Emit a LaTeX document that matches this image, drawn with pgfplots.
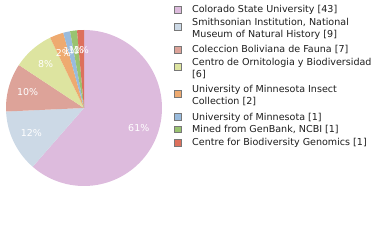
\documentclass[border=0pt]{standalone}
\usepackage{fontspec}
\setmainfont{DejaVu Sans}
\usepackage{pgfplots}
\pgfplotsset{compat=1.18}
\definecolor{cA}{RGB}{221,187,221}
\definecolor{cB}{RGB}{204,217,230}
\definecolor{cC}{RGB}{221,163,153}
\definecolor{cD}{RGB}{221,228,160}
\definecolor{cE}{RGB}{238,170,112}
\definecolor{cF}{RGB}{153,187,221}
\definecolor{cG}{RGB}{153,195,112}
\definecolor{cH}{RGB}{221,112,92}
\definecolor{legtext}{RGB}{30,30,30}
\begin{document}
\begin{tikzpicture}[x=1bp,y=1bp]
\useasboundingbox (0,0) rectangle (380,240);
% counts
\def\tot{70}
\pgfmathsetmacro\aA{90}
\pgfmathsetmacro\aB{\aA-43*360/\tot}
\pgfmathsetmacro\aC{\aB-9*360/\tot}
\pgfmathsetmacro\aD{\aC-7*360/\tot}
\pgfmathsetmacro\aE{\aD-6*360/\tot}
\pgfmathsetmacro\aF{\aE-2*360/\tot}
\pgfmathsetmacro\aG{\aF-1*360/\tot}
\pgfmathsetmacro\aH{\aG-1*360/\tot}
\pgfmathsetmacro\aI{\aH-1*360/\tot}
\begin{axis}[at={(84bp,132bp)}, anchor=center, width=156bp, height=156bp,
  scale only axis, hide axis, clip=false,
  xmin=-1, xmax=1, ymin=-1, ymax=1]
\addplot[fill=cA, draw=none, no markers, domain=\aB:\aA, samples=80] ({cos(x)},{sin(x)}) -- (axis cs:0,0) -- cycle;
\addplot[fill=cB, draw=none, no markers, domain=\aC:\aB, samples=30] ({cos(x)},{sin(x)}) -- (axis cs:0,0) -- cycle;
\addplot[fill=cC, draw=none, no markers, domain=\aD:\aC, samples=30] ({cos(x)},{sin(x)}) -- (axis cs:0,0) -- cycle;
\addplot[fill=cD, draw=none, no markers, domain=\aE:\aD, samples=30] ({cos(x)},{sin(x)}) -- (axis cs:0,0) -- cycle;
\addplot[fill=cE, draw=none, no markers, domain=\aF:\aE, samples=10] ({cos(x)},{sin(x)}) -- (axis cs:0,0) -- cycle;
\addplot[fill=cF, draw=none, no markers, domain=\aG:\aF, samples=6] ({cos(x)},{sin(x)}) -- (axis cs:0,0) -- cycle;
\addplot[fill=cG, draw=none, no markers, domain=\aH:\aG, samples=6] ({cos(x)},{sin(x)}) -- (axis cs:0,0) -- cycle;
\addplot[fill=cH, draw=none, no markers, domain=\aI:\aH, samples=6] ({cos(x)},{sin(x)}) -- (axis cs:0,0) -- cycle;
\tikzset{pl/.style={text=white, font=\fontsize{9.5}{10}\selectfont, inner sep=0pt}}
\node[pl] at (axis cs:{0.75*cos((\aA+\aB)/2)},{0.75*sin((\aA+\aB)/2)}) {61\%};
\node[pl] at (axis cs:{0.75*cos((\aB+\aC)/2)},{0.75*sin((\aB+\aC)/2)}) {12\%};
\node[pl] at (axis cs:{0.75*cos((\aC+\aD)/2)},{0.75*sin((\aC+\aD)/2)}) {10\%};
\node[pl] at (axis cs:{0.75*cos((\aD+\aE)/2)},{0.75*sin((\aD+\aE)/2)}) {8\%};
\node[pl] at (axis cs:{0.75*cos((\aE+\aF)/2)},{0.75*sin((\aE+\aF)/2)}) {2\%};
\node[pl] at (axis cs:{0.75*cos((\aF+\aG)/2)},{0.75*sin((\aF+\aG)/2)}) {1\%};
\node[pl] at (axis cs:{0.75*cos((\aG+\aH)/2)},{0.75*sin((\aG+\aH)/2)}) {1\%};
\node[pl] at (axis cs:{0.75*cos((\aH+\aI)/2)},{0.75*sin((\aH+\aI)/2)}) {1\%};
\end{axis}
% legend
\tikzset{ls/.style={draw={rgb,255:red,120;green,120;blue,120}, line width=0.8bp},
         lt/.style={anchor=base west, inner sep=0pt, text=legtext, font=\fontsize{9.6}{10}\selectfont}}
\def\sq#1#2{\filldraw[ls, fill=#1] (174.5,{240-#2-3.3}) rectangle ++(6.6,6.6);}
\sq{cA}{10}
\sq{cB}{27}
\sq{cC}{50}
\sq{cD}{67}
\sq{cE}{94}
\sq{cF}{117}
\sq{cG}{129.5}
\sq{cH}{143}
\node[lt] at (192,{240-12.8}) {Colorado State University [43]};
\node[lt] at (192,{240-25.8}) {Smithsonian Institution, National};
\node[lt] at (192,{240-37.6}) {Museum of Natural History [9]};
\node[lt] at (192,{240-52.8}) {Coleccion Boliviana de Fauna [7]};
\node[lt] at (192,{240-65.8}) {Centro de Ornitologia y Biodiversidad};
\node[lt] at (192,{240-77.6}) {[6]};
\node[lt] at (192,{240-92.8}) {University of Minnesota Insect};
\node[lt] at (192,{240-104.3}) {Collection [2]};
\node[lt] at (192,{240-120.3}) {University of Minnesota [1]};
\node[lt] at (192,{240-132.6}) {Mined from GenBank, NCBI [1]};
\node[lt] at (192,{240-145.8}) {Centre for Biodiversity Genomics [1]};
\end{tikzpicture}
\end{document}
